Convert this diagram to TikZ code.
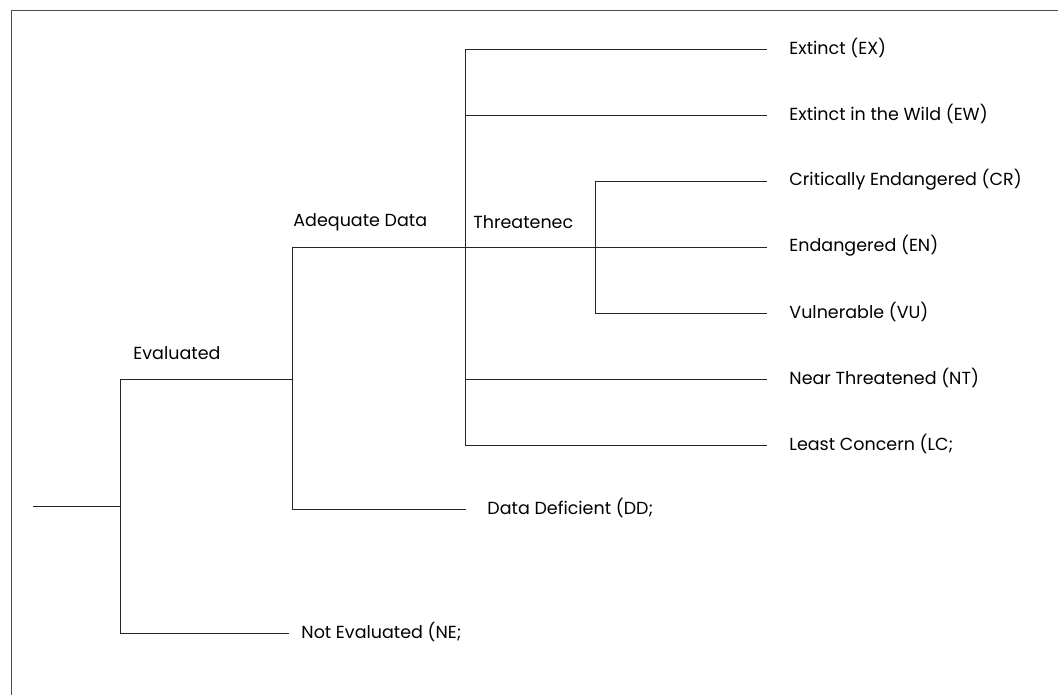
\documentclass[tikz,border=0pt]{standalone}
\usepackage{fontspec}
\setmainfont{Poppins}
\begin{document}
\begin{tikzpicture}[
       x=1pt,
       y=-1pt,
       line width=0.9pt,
       branche/.style={
         draw=black!85
       },
       etiquette/.style={
         anchor=west,
         inner sep=0pt,
         font=\fontsize{17.5}{20}\selectfont
       }
     ]

       \useasboundingbox (0,0) rectangle (1058,695);
       \draw[black!70] (11,695) -- (11,10) -- (1058,10);

       \coordinate (r0) at (33,506);
       \coordinate (r1) at (120,506);
       \coordinate (ev) at (292,379);
       \coordinate (ne) at (289,633);
       \coordinate (ad) at (465,247);
       \coordinate (dd) at (466,509);
       \coordinate (th) at (595,247);

       \coordinate (ex) at (767,49);
       \coordinate (ew) at (767,115);
       \coordinate (cr) at (767,181);
       \coordinate (en) at (767,247);
       \coordinate (vu) at (767,313);
       \coordinate (nt) at (767,379);
       \coordinate (lc) at (767,445);

       \node (t1) at (133,353) [etiquette]{Evaluated};
       \node (t2) at (293,222) [etiquette]{Adequate Data};
       \node (t3) at (473,222) [etiquette]{Threatenec};
       \node (t4) at (301,632) [etiquette]{Not Evaluated (NE;};
       \node (t5) at (487,508) [etiquette]{Data Deficient (DD;};

       \node (t6) at (789,48) [etiquette]{Extinct (EX)};
       \node (t7) at (789,114) [etiquette]{Extinct in the Wild (EW)};
       \node (t8) at (789,180) [etiquette]{Critically Endangered (CR)};
       \node (t9) at (789,246) [etiquette]{Endangered (EN)};
       \node (t10) at (789,312) [etiquette]{Vulnerable (VU)};
       \node (t11) at (789,378) [etiquette]{Near  Threatened (NT)};
       \node (t12) at (789,444) [etiquette]{Least Concern (LC;};

       \draw[branche] (r0) -- (r1);
       \draw[branche] (r1) |- (ev);
       \draw[branche] (r1) |- (ne);

       \draw[branche] (ev) |- (ad);
       \draw[branche] (ev) |- (dd);

       \draw[branche] (ad) |- (ex);
       \draw[branche] (ad) |- (ew);
       \draw[branche] (ad) -- (th);
       \draw[branche] (ad) |- (nt);
       \draw[branche] (ad) |- (lc);

       \draw[branche] (th) |- (cr);
       \draw[branche] (th) -- (en);
       \draw[branche] (th) |- (vu);

\end{tikzpicture}
\end{document}
